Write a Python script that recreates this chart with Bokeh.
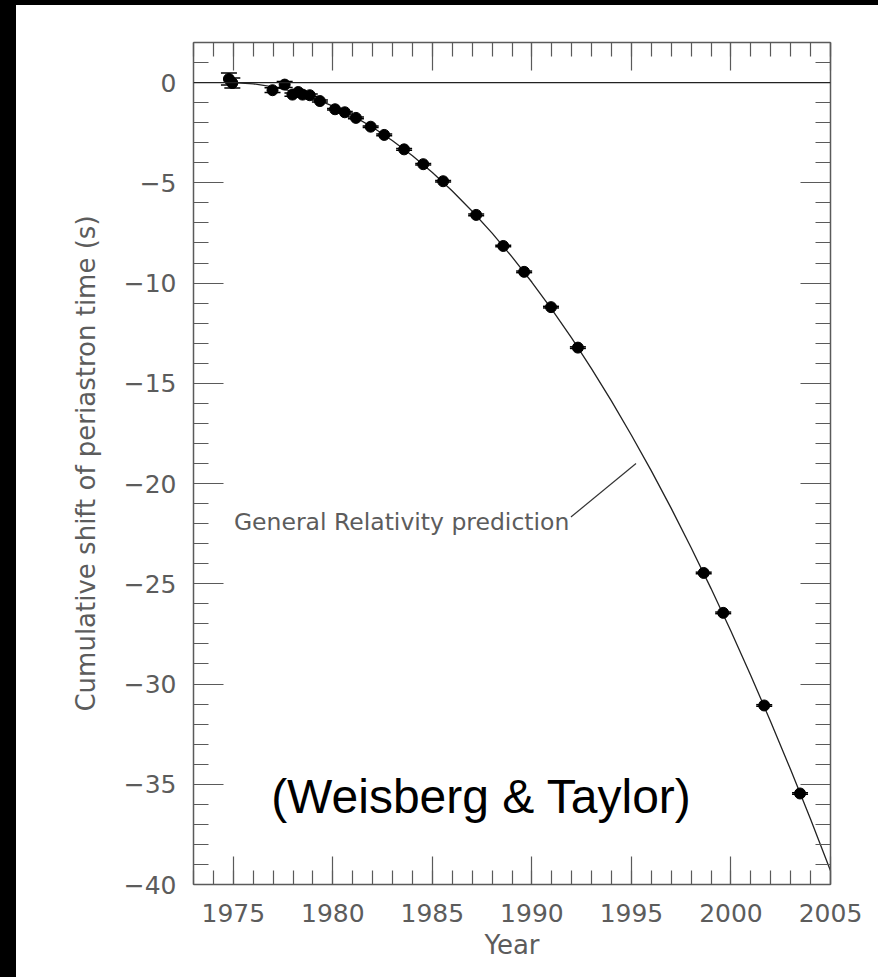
import numpy as np
from bokeh.plotting import figure
from bokeh.models import (LinearAxis, SingleIntervalTicker, Range1d, Span, Label,
                          Spacer, CustomJSTickFormatter)
from bokeh.layouts import column, row
from bokeh.embed import file_html
from bokeh.resources import INLINE

# ---- data ----
years = [1974.78, 1974.95, 1976.97, 1977.58, 1977.97, 1978.26, 1978.48, 1978.84,
         1979.35, 1980.11, 1980.60, 1981.16, 1981.90, 1982.58, 1983.58, 1984.54,
         1985.54, 1987.20, 1988.56, 1989.61, 1990.96, 1992.31, 1998.63, 1999.61,
         2001.67, 2003.47]
shift = [0.18, -0.02, -0.38, -0.10, -0.60, -0.47, -0.60, -0.63,
         -0.92, -1.33, -1.48, -1.76, -2.20, -2.61, -3.33, -4.07,
         -4.92, -6.60, -8.15, -9.44, -11.20, -13.22, -24.46, -26.45,
         -31.07, -35.46]
errors = [0.30, 0.25, 0.12, 0.15, 0.08, 0.06, 0.06, 0.06,
          0.05, 0.04, 0.04, 0.04, 0.04, 0.04, 0.04, 0.04,
          0.04, 0.04, 0.04, 0.04, 0.04, 0.04, 0.04, 0.04,
          0.04, 0.04]

# General Relativity prediction curve
gr_years = [1974.8, 1975, 1976, 1977, 1978, 1979, 1980, 1981, 1982, 1983, 1984,
            1985, 1986, 1987, 1988, 1989, 1990, 1991, 1992, 1993, 1994, 1995,
            1996, 1997, 1998, 1999, 2000, 2001, 2002, 2003, 2004, 2005]
gr_shift = [0.0, 0.0, -0.06, -0.21, -0.44, -0.76, -1.17, -1.66, -2.23, -2.90, -3.65,
            -4.48, -5.41, -6.42, -7.51, -8.69, -9.96, -11.31, -12.75, -14.28, -15.89,
            -17.59, -19.37, -21.24, -23.20, -25.24, -27.37, -29.59, -31.89, -34.28,
            -36.75, -39.31]

# annotation
note_text = "General Relativity prediction"
note_pos = (1975.03, -21.94)
note_leader_x = [1991.96, 1995.23]
note_leader_y = [-21.67, -19.0]
credit_text = "(Weisberg & Taylor)"
credit_pos = (1976.9, -35.6)

x_ticks_interval = 5
y_ticks_interval = 5

TICK_FONT = "DejaVu Sans"
LABEL_FONT = "DejaVu Sans"
GREY = "#5c5c5c"
AXC = "#5a5a5a"

p = figure(width=862, height=972,
           x_range=Range1d(1973, 2005), y_range=Range1d(-40, 2),
           output_backend="svg", toolbar_location=None,
           min_border_left=177, min_border_right=48,
           min_border_top=37, min_border_bottom=93,
           background_fill_color="white", border_fill_color="white",
           outline_line_color=None)
p.xgrid.visible = False
p.ygrid.visible = False

blank = CustomJSTickFormatter(code="return '';")


def style_axis(ax, interval, major_len, minor_len, labels=True):
    ax.ticker = SingleIntervalTicker(interval=interval, num_minor_ticks=5)
    ax.axis_line_color = AXC
    ax.axis_line_width = 1.5
    ax.major_tick_line_color = AXC
    ax.minor_tick_line_color = AXC
    ax.major_tick_line_width = 1.2
    ax.minor_tick_line_width = 1.2
    ax.major_tick_in = major_len
    ax.major_tick_out = 0
    ax.minor_tick_in = minor_len
    ax.minor_tick_out = 0
    ax.major_label_text_font = TICK_FONT
    ax.major_label_text_font_size = "25px"
    ax.major_label_text_color = GREY
    if not labels:
        ax.formatter = blank
        ax.major_label_standoff = 0


xa = p.xaxis[0]
ya = p.yaxis[0]
style_axis(xa, x_ticks_interval, 28, 14)
style_axis(ya, y_ticks_interval, 30, 15)
xa.major_label_standoff = 19
ya.major_label_standoff = 17
ya.formatter = CustomJSTickFormatter(
    code="return tick < 0 ? '\u2212' + Math.abs(tick) : String(tick);")

xa.axis_label = "Year"
ya.axis_label = "Cumulative shift of periastron time (s)"
for ax in (xa, ya):
    ax.axis_label_text_font = LABEL_FONT
    ax.axis_label_text_font_style = "normal"
    ax.axis_label_text_font_size = "26px"
    ax.axis_label_text_color = GREY
xa.axis_label_standoff = 5
ya.axis_label_standoff = 20

top_ax = LinearAxis()
style_axis(top_ax, x_ticks_interval, 28, 14, labels=False)
p.add_layout(top_ax, "above")
right_ax = LinearAxis()
style_axis(right_ax, y_ticks_interval, 30, 15, labels=False)
p.add_layout(right_ax, "right")

# zero line
p.add_layout(Span(location=0, dimension="width", line_color="#222222", line_width=1.2))

# GR curve
p.line(gr_years, gr_shift, line_color="#222222", line_width=1.3)

# error bars and points
yr = np.array(years)
sh = np.array(shift)
er = np.array(errors)
p.segment(x0=yr, y0=sh - er, x1=yr, y1=sh + er, line_color="black", line_width=1.5)
p.scatter(yr, sh + er, marker="dash", size=16, line_color="black", line_width=1.5)
p.scatter(yr, sh - er, marker="dash", size=16, line_color="black", line_width=1.5)
p.scatter(yr, sh, marker="circle", size=11, fill_color="black", line_color="black")

# annotation
p.add_layout(Label(x=note_pos[0], y=note_pos[1], text=note_text,
                   text_font=LABEL_FONT, text_font_size="23.5px", text_color=GREY,
                   text_baseline="alphabetic"))
p.segment(x0=[note_leader_x[0]], y0=[note_leader_y[0]],
          x1=[note_leader_x[1]], y1=[note_leader_y[1]],
          line_color="#333333", line_width=1.2)

p.add_layout(Label(x=credit_pos[0], y=credit_pos[1], text=credit_text,
                   text_font="Liberation Sans", text_font_size="48px",
                   text_color="black", text_baseline="alphabetic"))

layout = column(
    Spacer(width=878, height=5, styles={"background-color": "black"}),
    row(Spacer(width=16, height=972, styles={"background-color": "black"}), p),
)

open("out.html", "w").write(file_html(layout, INLINE))
